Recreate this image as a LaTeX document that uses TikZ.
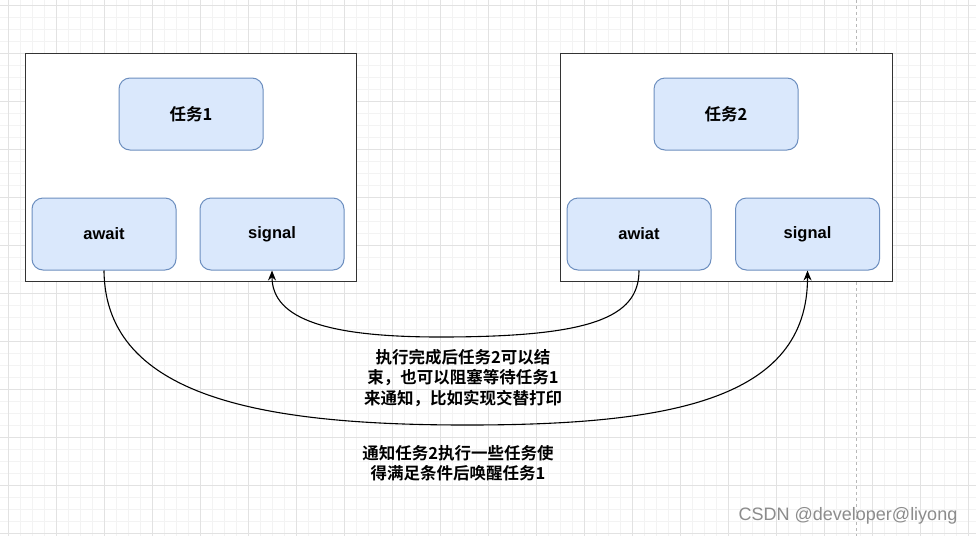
\documentclass[tikz,border=0pt]{standalone}
\usepackage{fontspec}
\setmainfont{Liberation Sans}
\newfontfamily\cjk{Noto Sans CJK SC}[BoldFont={Noto Sans CJK SC Bold}]
\usetikzlibrary{arrows.meta}
\definecolor{nodefill}{HTML}{DAE8FC}
\definecolor{nodeline}{HTML}{6C8EBF}
\definecolor{boxline}{HTML}{333333}
\definecolor{gridminor}{HTML}{F3F3F3}
\definecolor{gridmajor}{HTML}{E2E2E2}
\definecolor{pagebreak}{HTML}{B8B8B8}
\definecolor{wmark}{HTML}{8C8C8C}
\begin{document}
\begin{tikzpicture}[x=1pt,y=-1pt,
  container/.style={draw=boxline, line width=1.3pt, fill=white, inner sep=0pt,
    minimum width=331.5pt, minimum height=228pt},
  taskbox/.style={draw=nodeline, fill=nodefill, line width=1pt, rounded corners=11pt,
    minimum width=144pt, minimum height=72pt, inner sep=0pt},
  latinlbl/.style={font=\fontsize{16.5}{20}\selectfont\bfseries},
  cjklbl/.style={font=\cjk\bfseries\fontsize{16.5}{20}\selectfont},
  note/.style={align=center, inner sep=0pt, font=\cjk\bfseries\fontsize{16.5}{20.5}\selectfont},
  conn/.style={draw=black, line width=1.1pt, -{Stealth[length=10pt,width=8pt]}}
]
\useasboundingbox (0,0) rectangle (976,536);
\fill[white] (0,0) rectangle (976,536);
% grid
\foreach \i in {0,...,80} {\draw[gridminor, line width=0.8pt] ({8.3+12*\i},0) -- ({8.3+12*\i},536);}
\foreach \j in {0,...,44} {\draw[gridminor, line width=0.8pt] (0,{5.7+12*\j}) -- (976,{5.7+12*\j});}
\foreach \i in {0,...,20} {\draw[gridmajor, line width=0.8pt] ({8.3+48*\i},0) -- ({8.3+48*\i},536);}
\foreach \j in {0,...,11} {\draw[gridmajor, line width=0.8pt] (0,{5.7+48*\j}) -- (976,{5.7+48*\j});}
% page break line
\draw[pagebreak, line width=0.8pt, dash pattern=on 3pt off 3pt] (856.7,0) -- (856.7,536);

% containers
\node[container] (box1) at (191,167.5) {};
\node[container] (box2) at (726.5,167.5) {};

% inner nodes
\node[taskbox, cjklbl] (task1) at (191,114) {任务1};
\node[taskbox, latinlbl] (await1) at (104,234) {await};
\node[taskbox, latinlbl] (signal1) at (272,234) {signal};
\node[taskbox, cjklbl] (task2) at (726,114) {任务2};
\node[taskbox, latinlbl] (awiat2) at (639,234) {awiat};
\node[taskbox, latinlbl] (signal2) at (807.5,234) {signal};

% connectors
\draw[conn] (awiat2.south) .. controls (639,318) and (590,337) .. (440,337)
  .. controls (330,337) and (272,320) .. (signal1.south);
\draw[conn] (await1.south) .. controls (105,400) and (270,425) .. (467,425)
  .. controls (670,425) and (808,400) .. (signal2.south);

% labels
\node[note] (note1) at (463,378) {执行完成后任务2可以结\\束，也可以阻塞等待任务1\\来通知，比如实现交替打印};
\node[note] (note2) at (458,463) {通知任务2执行一些任务使\\得满足条件后唤醒任务1};

% watermark
\node[text=wmark, inner sep=0pt, font=\fontsize{18}{20}\selectfont] (wm) at (848,516) {CSDN @developer@liyong};
\end{tikzpicture}
\end{document}
